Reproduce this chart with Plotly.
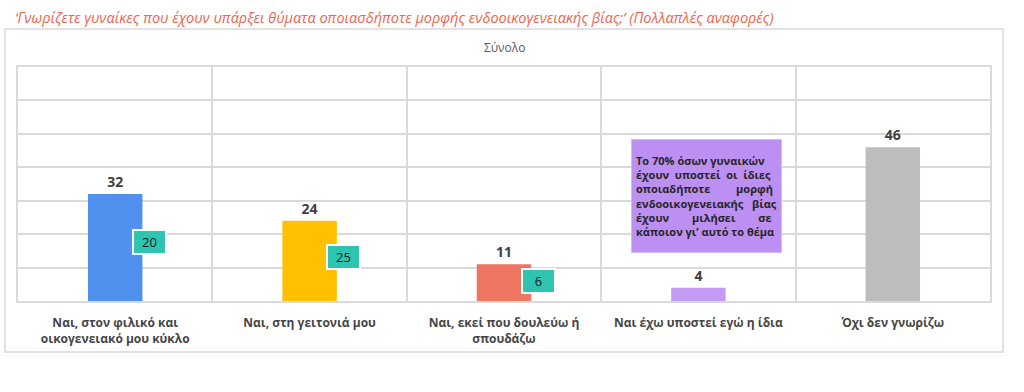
import plotly.graph_objects as go

categories = [
    "Ναι, στον φιλικό και<br>οικογενειακό μου κύκλο",
    "Ναι, στη γειτονιά μου",
    "Ναι, εκεί που δουλεύω ή<br>σπουδάζω",
    "Ναι έχω υποστεί εγώ η ίδια",
    "Όχι δεν γνωρίζω",
]
totals = [32, 24, 11, 4, 46]
bar_colors = ["#5090EE", "#FFC000", "#EF7662", "#C39BF5", "#BDBDBD"]
sub_values = [20, 25, 6]
title_text = "‘Γνωρίζετε γυναίκες που έχουν υπάρξει θύματα οποιασδήποτε μορφής ενδοοικογενειακής βίας;’ (Πολλαπλές αναφορές)"
subtitle_text = "Σύνολο"
nb = "\u00a0"
note_lines = [
    "Το 70% όσων γυναικών",
    f"έχουν{nb*2}υποστεί{nb*2}οι{nb*2}ίδιες",
    f"οποιαδήποτε{nb*9}μορφή",
    f"ενδοοικογενειακής{nb*3}βίας",
    f"έχουν{nb*8}μιλήσει{nb*8}σε",
    "κάποιον γι’ αυτό το θέμα",
]

FONT = "Open Sans"
fig = go.Figure()
fig.add_trace(go.Bar(
    x=categories, y=totals, marker=dict(color=bar_colors, line=dict(width=0)),
    width=0.28, text=[str(v) for v in totals], textposition="outside",
    textfont=dict(family=FONT, size=14, color="#404040", weight="bold"),
    cliponaxis=False, hoverinfo="skip",
))

# frame
L, R, T, B = 18, 34, 67, 91
W, H = 1024 - L - R, 392 - T - B
fig.add_shape(type="rect", xref="paper", yref="paper",
              x0=(5 - L) / W, x1=(1003 - L) / W,
              y0=(392 - B - 352) / H, y1=(392 - B - 29) / H,
              line=dict(color="#D9D9D9", width=1.5), fillcolor="white", layer="below")

for i, v in enumerate(sub_values):
    fig.add_annotation(x=categories[i], y=totals[i] * 0.55, xref="x", yref="y",
                       text=str(v), showarrow=False, xshift=34,
                       font=dict(family=FONT, size=13, color="#1A1A1A"),
                       bgcolor="#2EC4B0", bordercolor="white", borderwidth=2,
                       width=31, height=22, borderpad=0)

fig.add_annotation(x=categories[3], y=31.5, xref="x", yref="y", xshift=8,
                   text="<br>".join(note_lines), showarrow=False, align="left",
                   font=dict(family=FONT, size=11, color="#262626", weight="bold"),
                   bgcolor="#BC8FF2", bordercolor="#D4B8F8", borderwidth=1,
                   width=141, height=104, borderpad=4, valign="middle")

fig.add_annotation(x=(13 - L) / W, y=(392 - B - 17) / H, xref="paper", yref="paper",
                   xanchor="left", yanchor="middle", text=f"<i>{title_text}</i>",
                   showarrow=False, font=dict(family=FONT, size=14.5, color="#F0644E"))
fig.add_annotation(x=0.5, y=(392 - B - 47) / H, xref="paper", yref="paper",
                   xanchor="center", yanchor="middle",
                   text=subtitle_text, showarrow=False,
                   font=dict(family=FONT, size=12, color="#595959"))

fig.update_layout(
    width=1024, height=392, margin=dict(l=L, r=R, t=T, b=B),
    paper_bgcolor="white", plot_bgcolor="#EEEEEE", showlegend=False,
)
fig.update_xaxes(type="category", tickson="boundaries", showgrid=True,
                 gridcolor="#DADADA", gridwidth=1.5, ticks="",
                 ticklabelstandoff=10,
                 tickfont=dict(family=FONT, size=12, color="#454545", weight="bold"),
                 showline=True, linecolor="#DADADA", mirror=True, linewidth=1.5)
fig.update_yaxes(range=[0, 70], dtick=10, showticklabels=False, showgrid=True,
                 gridcolor="#DADADA", gridwidth=1.5, zeroline=False,
                 showline=True, linecolor="#DADADA", mirror=True, linewidth=1.5)

fig.write_html("out.html", config={"displayModeBar": False},
               post_script="document.body.style.margin='0px';")
